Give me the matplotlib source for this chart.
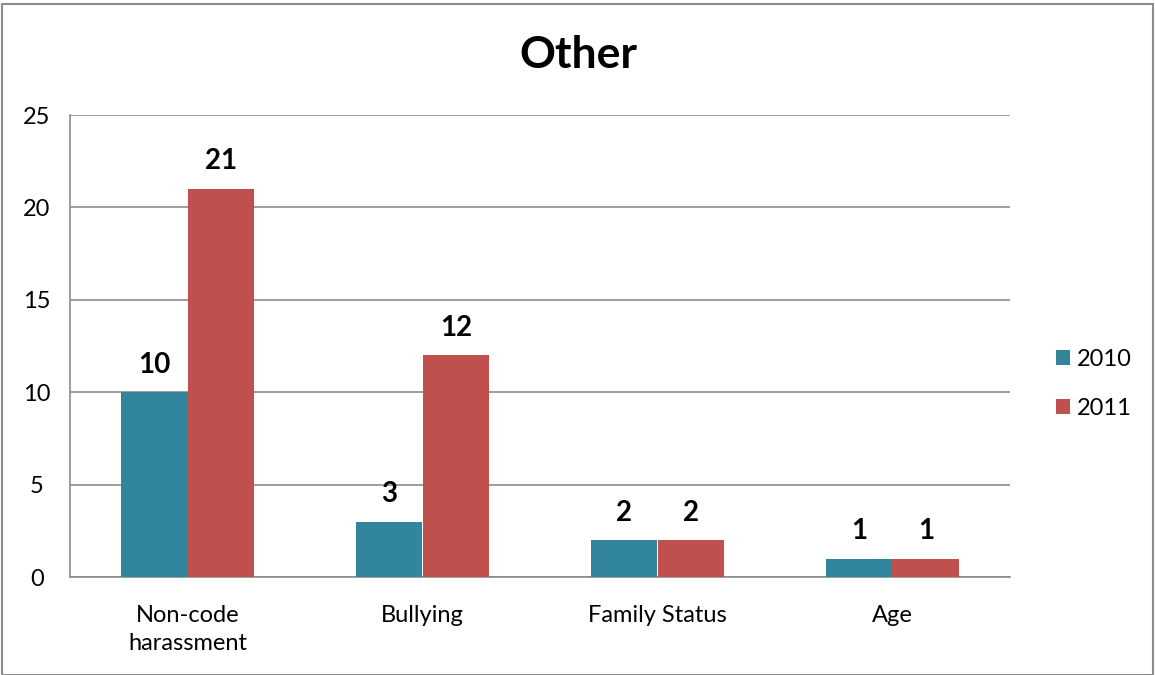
import matplotlib
matplotlib.use("Agg")
import matplotlib.pyplot as plt
from matplotlib.patches import Rectangle
import numpy as np

plt.rcParams['font.family'] = ['Lato', 'DejaVu Sans']

categories = ["Non-code\nharassment", "Bullying", "Family Status", "Age"]
years = ["2010", "2011"]
values_2010 = [10, 3, 2, 1]
values_2011 = [21, 12, 2, 1]
colors = ["#31859C", "#C0504D"]

fig = plt.figure(figsize=(11.55, 6.75), dpi=100)
ax = fig.add_axes([70 / 1155, 1 - 577 / 675, 940 / 1155, 462 / 675])

x = np.arange(len(categories))
w = 0.285
for i, (vals, col, lab) in enumerate(zip([values_2010, values_2011], colors, years)):
    pos = x + (i - 0.5) * w
    ax.bar(pos, vals, width=w, color=col, label=lab, zorder=3)
    for p, v in zip(pos, vals):
        ax.annotate(str(v), (p, v), xytext=(0, 14), textcoords="offset points",
                    ha="center", va="baseline", fontsize=20,
                    fontweight="bold", color="black")

ax.set_xlim(-0.5, len(categories) - 0.5)
ax.set_ylim(0, 25)
ax.set_yticks([0, 5, 10, 15, 20, 25])
ax.set_xticks(x)
ax.set_xticklabels(categories, fontsize=17, linespacing=1.4)
ax.tick_params(axis="y", labelsize=17, length=0, pad=24)
ax.tick_params(axis="x", length=0, pad=20)
ax.grid(axis="y", color="#8c8c8c", linewidth=1.2, zorder=0)
for s in ["top", "right"]:
    ax.spines[s].set_visible(False)
for s in ["left", "bottom"]:
    ax.spines[s].set_color("#8c8c8c")
    ax.spines[s].set_linewidth(1.2)
for lbl in ax.get_yticklabels():
    lbl.set_horizontalalignment("center")

fig.text(578 / 1155, 1 - 55 / 675, "Other", ha="center", va="center",
         fontsize=32, fontweight="bold")

leg = ax.legend(loc="center left", bbox_to_anchor=(1.026, 0.418), frameon=False,
                fontsize=17, handlelength=0.6, handleheight=0.6,
                handletextpad=0.3, labelspacing=1.2)

fig.patches.append(Rectangle((2 / 1155, 0), 1 - 4 / 1155, 1 - 4 / 675,
                             transform=fig.transFigure, fill=False,
                             edgecolor="#8c8c8c", linewidth=1.5))

fig.savefig("out.png", dpi=100)
